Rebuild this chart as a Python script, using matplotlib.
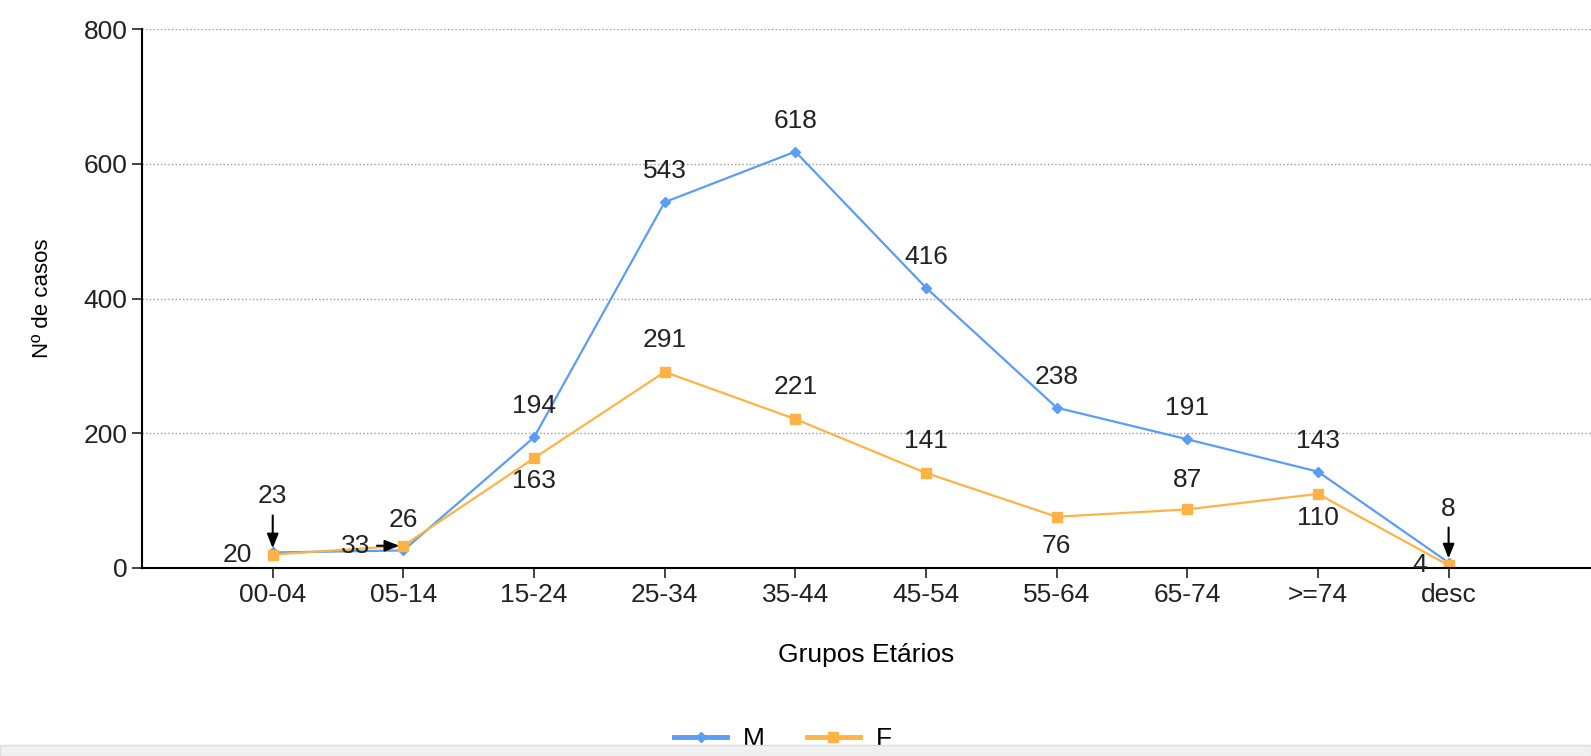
import matplotlib.pyplot as plt
from matplotlib.patches import Rectangle

plt.rcParams['font.family'] = ['Liberation Sans', 'DejaVu Sans']

# faixas etarias e numero de casos por sexo
grupos = ['00-04', '05-14', '15-24', '25-34', '35-44', '45-54', '55-64', '65-74', '>=74', 'desc']
casos_m = [23, 26, 194, 543, 618, 416, 238, 191, 143, 8]
casos_f = [20, 33, 163, 291, 221, 141, 76, 87, 110, 4]

# deslocamento dos rotulos (pixels) e se levam seta
off_m = [(0, 56, True), (0, 30, False), (0, 31, False), (0, 31, False), (0, 31, False),
         (0, 31, False), (0, 31, False), (0, 31, False), (0, 31, False), (0, 54, True)]
off_f = [(-35, 0, False), (-48, 0, True), (0, -23, False), (0, 32, False), (0, 32, False),
         (0, 32, False), (0, -29, False), (0, 29, False), (0, -24, False), (-29, 0, False)]

azul = '#5b9cf4'
laranja = '#ffb347'

fig = plt.figure(figsize=(15.91, 7.56), dpi=100)
ax = fig.add_axes([0.0893, 0.2487, 0.9107, 0.7129])
x = list(range(len(grupos)))

ax.plot(x, casos_m, color=azul, lw=1.6, marker='D', ms=5, label='M')
ax.plot(x, casos_f, color=laranja, lw=1.6, marker='s', ms=7, label='F')

for serie, offs in ((casos_m, off_m), (casos_f, off_f)):
    for i, v in enumerate(serie):
        dx, dy, seta = offs[i]
        props = None
        if seta:
            props = dict(arrowstyle='-|>,head_length=0.45,head_width=0.18', color='black',
                         lw=1.5, shrinkA=3, shrinkB=3)
        ax.annotate(str(v), (i, v), xytext=(dx, dy), textcoords='offset pixels',
                    ha='center', va='center', fontsize=19, color='#222222',
                    arrowprops=props)

ax.set_xlim(-1, 10.09)
ax.set_ylim(0, 800)
ax.set_xticks(x)
ax.set_xticklabels(grupos)
ax.set_yticks([0, 200, 400, 600, 800])
ax.tick_params(labelsize=19, length=7, width=1.2, colors='#222222')
ax.yaxis.grid(True, linestyle=':', color='#999999', lw=1)
ax.spines['top'].set_visible(False)
ax.spines['right'].set_visible(False)
ax.spines['left'].set_linewidth(1.5)
ax.spines['bottom'].set_linewidth(1.5)
ax.set_xlabel('Grupos Etários', fontsize=19, labelpad=26)
ax.set_ylabel('Nº de casos', fontsize=16, labelpad=22)

leg = ax.legend(loc='center', bbox_to_anchor=(0.492, 0.022), bbox_transform=fig.transFigure,
                ncol=2, frameon=False, fontsize=19, handlelength=2.0, handletextpad=0.6,
                columnspacing=1.6)
for h in leg.get_lines():
    h.set_linewidth(3.5)

fig.patches.append(Rectangle((0, 0), 1, 11 / 756, transform=fig.transFigure,
                             facecolor='#f0f0f0', edgecolor='#dddddd', zorder=10))

plt.savefig('out.png')
